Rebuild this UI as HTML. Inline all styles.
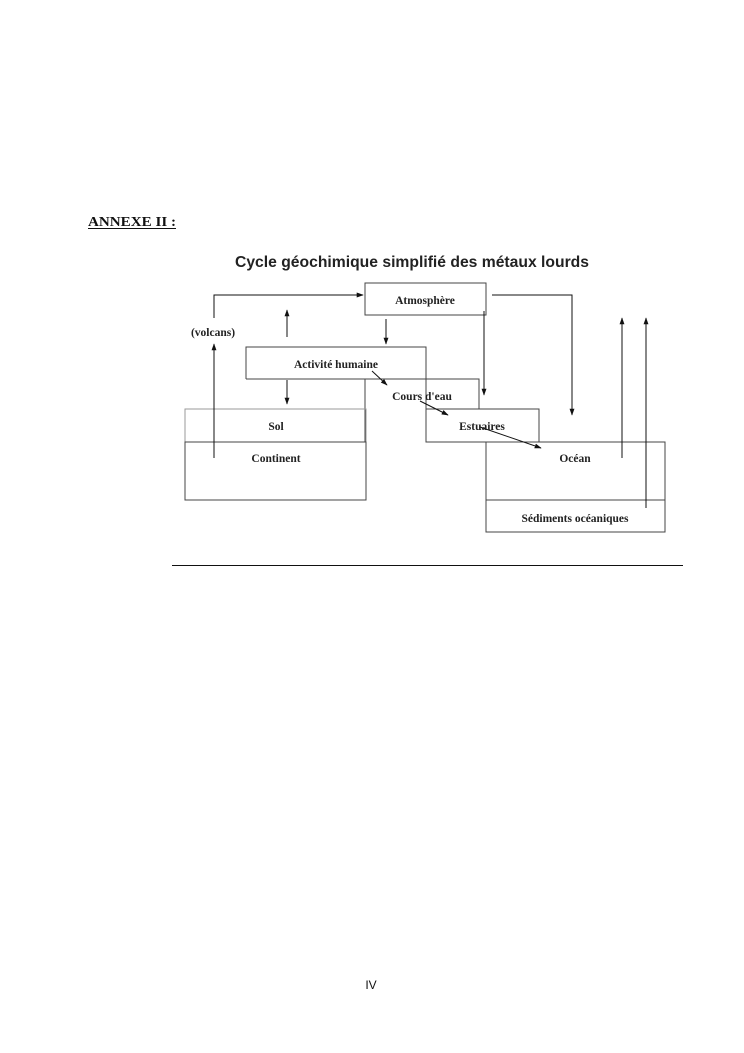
<!DOCTYPE html>
<html><head><meta charset="utf-8"><style>
html,body{margin:0;padding:0;background:#fff;}
body{width:744px;height:1053px;position:relative;overflow:hidden;}
svg{position:absolute;left:0;top:0;}
</style></head><body>
<svg width="744" height="1053" viewBox="0 0 744 1053" xmlns="http://www.w3.org/2000/svg">
<defs>
<marker id="a" viewBox="0 0 10 10" refX="9" refY="5" markerWidth="7" markerHeight="7" orient="auto-start-reverse" markerUnits="userSpaceOnUse">
<path d="M0,1.5 L10,5 L0,8.5 z" fill="#111"/></marker>
</defs>
<text x="88" y="226" font-family="Liberation Serif, serif" font-weight="bold" font-size="14" textLength="88" lengthAdjust="spacingAndGlyphs" fill="#111">ANNEXE II :</text>
<line x1="88" y1="228.5" x2="176" y2="228.5" stroke="#111" stroke-width="1"/>
<text x="412" y="267" text-anchor="middle" font-family="Liberation Sans, sans-serif" font-weight="bold" font-size="16" textLength="354" lengthAdjust="spacingAndGlyphs" fill="#222">Cycle géochimique simplifié des métaux lourds</text>
<g fill="none" stroke="#444" stroke-width="1">
<rect x="365" y="283" width="121" height="32"/>
<polyline points="246,379 246,347 426,347 426,379"/>
<line x1="246" y1="379" x2="365" y2="379"/>
<polyline points="365,379 479,379 479,409"/>
<line x1="365" y1="379" x2="365" y2="442"/>
<rect x="185" y="409" width="181" height="33" stroke="#999"/>
<rect x="185" y="442" width="181" height="58"/>
<polyline points="426,379 426,442 539,442 539,409 426,409"/>
<rect x="486" y="442" width="179" height="58"/>
<rect x="486" y="500" width="179" height="32"/>
</g>
<g stroke="#111" stroke-width="1" fill="none">
<polyline points="214,318 214,295 363,295" marker-end="url(#a)"/>
<polyline points="492,295 572,295 572,415" marker-end="url(#a)"/>
<line x1="386" y1="319" x2="386" y2="344" marker-end="url(#a)"/>
<line x1="484" y1="311" x2="484" y2="395" marker-end="url(#a)"/>
<line x1="287" y1="337" x2="287" y2="310" marker-end="url(#a)"/>
<line x1="287" y1="380" x2="287" y2="404" marker-end="url(#a)"/>
<line x1="214" y1="458" x2="214" y2="344" marker-end="url(#a)"/>
<line x1="622" y1="458" x2="622" y2="318" marker-end="url(#a)"/>
<line x1="646" y1="508" x2="646" y2="318" marker-end="url(#a)"/>
<line x1="372" y1="371" x2="387" y2="385" marker-end="url(#a)"/>
<line x1="420" y1="401" x2="448" y2="415" marker-end="url(#a)"/>
<line x1="480" y1="427" x2="541" y2="448" marker-end="url(#a)"/>
</g>
<g font-family="Liberation Serif, serif" font-weight="bold" font-size="11.5" fill="#222" text-anchor="middle">
<text x="425" y="304">Atmosphère</text>
<text x="213" y="336">(volcans)</text>
<text x="336" y="368">Activité humaine</text>
<text x="422" y="400">Cours d'eau</text>
<text x="276" y="430">Sol</text>
<text x="276" y="462">Continent</text>
<text x="482" y="430">Estuaires</text>
<text x="575" y="462">Océan</text>
<text x="575" y="522">Sédiments océaniques</text>
</g>
<line x1="172" y1="565.5" x2="683" y2="565.5" stroke="#111" stroke-width="1"/>
<text x="371" y="989" text-anchor="middle" font-family="Liberation Sans, sans-serif" font-size="12" fill="#111">IV</text>
</svg>
</body></html>
